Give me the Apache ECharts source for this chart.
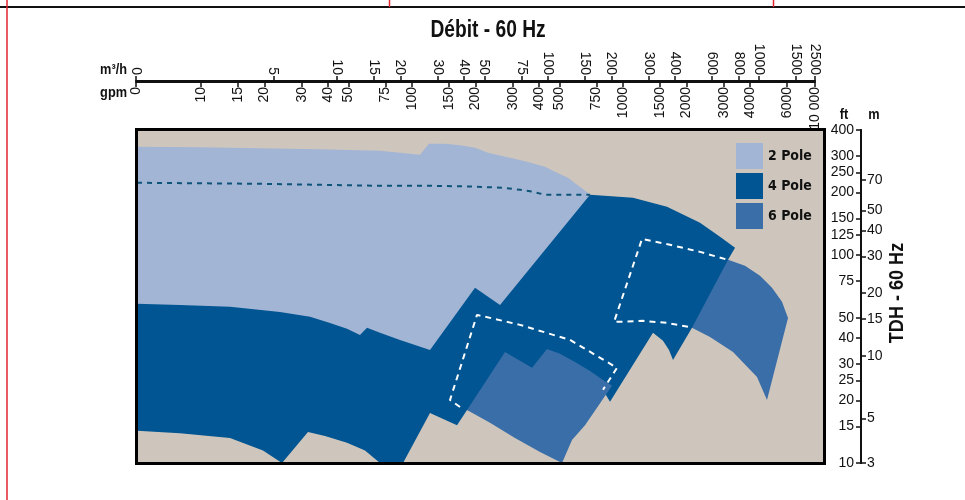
<!DOCTYPE html>
<html><head><meta charset="utf-8">
<script src="https://cdn.jsdelivr.net/npm/echarts@6/dist/echarts.min.js"></script>
<style>html,body{margin:0;padding:0;background:#fff}#c{width:965px;height:500px}</style>
</head><body><div id="c"></div>
<script>
const FONT = "'Liberation Sans',Arial,sans-serif";
const FONT_B = "'DejaVu Sans Condensed','Liberation Sans',sans-serif";

// ---- top flow axes (gpm and m3/h) ----
const gpmTickVals   = [4.92, 10, 15, 20, 30, 40, 50, 75, 100, 150, 200, 300, 400, 500, 750, 1000, 1500, 2000, 3000, 4000, 6000, 8128];
const gpmTickLabels = ['0','10','15','20','30','40','50','75','100','150','200','300','400','500','750','1000','1500','2000','3000','4000','6000','10 000'];
const m3hTickVals   = [1.1174, 5, 10, 15, 20, 30, 40, 50, 75, 100, 150, 200, 300, 400, 600, 800, 1000, 1500, 1846];
const m3hTickLabels = ['0','5','10','15','20','30','40','50','75','100','150','200','300','400','600','800','1000','1500','2500'];

// ---- right head axes (ft and m) ----
const ftTickVals = [10, 15, 20, 25, 30, 40, 50, 75, 100, 125, 150, 200, 250, 300, 400];
const mTickVals  = [3.048, 5, 10, 15, 20, 30, 40, 50, 70];

// ---- regions: [gpm, ft] ----
const pole2Region = [
  [4.974,332.2],[9.891,330.3],[19.04,326.7],[36.64,323.1],[70.52,317.8],[109.1,304.0],[120.4,343.5],
  [143.3,343.5],[168.9,337.9],[198.9,328.5],[229.2,310.8],[291.4,294.1],[350.9,281.3],[426.9,266.1],
  [486.7,249.0],[548.8,235.6],[605.4,218.0],[653.4,206.3],[697.7,195.2],
  [404.3,60.9],[121.7,33.1],[4.974,43.7]
];
const pole4Region = [
  [4.974,58.3],[7.952,57.6],[13.72,56.4],[23.68,53.3],[32.86,50.5],[40.88,47.2],[49.19,44.2],[56.69,41.3],
  [61.20,44.7],[70.52,42.3],[87.75,39.1],[121.7,35.0],[198.9,69.6],[261.3,57.6],[697.7,195.2],
  [1115,188.8],[1616,170.8],[2317,143.1],[2882,122.5],[3396,108.4],[3146,94.9],[3585,80.4],[2882,43.7],
  [2123,44.7],[1726,31.3],[1652,35.0],[1547,38.7],[1387,42.3],[867.8,19.7],[812.7,22.0],[697.7,20.1],
  [404.3,16.1],[182.3,18.0],[163.4,15.2],[121.7,17.4],[90.67,10],[70.52,10],[59.88,11.5],[49.19,12.5],
  [38.70,13.5],[32.14,14.1],[24.20,10],[19.67,11.5],[13.72,13.2],[7.952,13.9],[4.974,14.3]
];
const pole6RegionA = [
  [182.3,18.0],[275.9,34.2],[370.5,28.7],[436.3,35.4],[502.9,33.5],[592.4,30.6],[697.7,27.7],[803.9,25.1],
  [887.0,23.5],[660.6,15.2],[573.2,12.9],[514.0,10],[404.3,11.3],[307.7,13.2],[234.2,15.6]
];
const pole6RegionB = [
  [3146,94.9],[3786,88.8],[4459,79.5],[5083,69.6],[5669,59.6],[6054,49.9],[4813,20.1],[4316,25.9],
  [3322,34.2],[2584,40.4],[2123,44.7]
];

// ---- dashed curves ----
const blueDashed = [
  [4.974,222.9],[9.891,221.7],[19.04,220.4],[36.64,218.0],[70.52,215.6],[121.7,215.6],[188.3,213.9],
  [269.9,210.9],[324.9,206.3],[374.5,201.7],[426.9,195.2],[697.7,195.2]
];
const whiteDashedA = [
  [168.9,18.6],[151.4,20.1],[203.3,51.6],[324.9,46.2],[560.9,39.1],[936.4,28.7],[803.9,22.5]
];
const whiteDashedB = [
  [2033,45.2],[1616,47.2],[1244,48.3],[906.6,47.7],[1231,119.8],[1670,112.1],[2317,103.7],[3146,94.9]
];

const C2 = '#a3b5d5', C4 = '#005592', C6 = '#3a6ea8';

function polySeries(name, color, polys, z) {
  return {
    type: 'custom', name, xAxisIndex: 0, yAxisIndex: 0, clip: true, z,
    itemStyle: { color },
    data: polys.map(p => p[0]),
    renderItem: (params, api) => ({
      type: 'polygon',
      shape: { points: polys[params.dataIndex].map(pt => api.coord(pt)) },
      style: { fill: color }
    })
  };
}
function labelFrom(vals, labels) {
  return v => {
    let best = 0, bd = Infinity;
    vals.forEach((t, i) => { const d = Math.abs(Math.log(t) - Math.log(v)); if (d < bd) { bd = d; best = i; } });
    return labels[best];
  };
}

const chart = echarts.init(document.getElementById('c'), null, { renderer: 'canvas' });
const txt = { fontFamily: FONT, color: '#111', fontSize: 14 };

chart.setOption({
  animation: false,
  backgroundColor: '#fff',
  grid: [
    { left: 137, top: 130, width: 686, height: 333, show: true, backgroundColor: '#cec6bc', borderWidth: 0 },
    { left: 136, top: 81, width: 679, height: 1, show: false }
  ],
  xAxis: [
    { type: 'log', gridIndex: 0, min: 4.974, max: 8868, show: false },
    { type: 'log', gridIndex: 1, position: 'bottom', min: 4.92, max: 8128,
      axisLine: { lineStyle: { color: '#111', width: 2 } },
      axisTick: { inside: false, length: 5, customValues: gpmTickVals, lineStyle: { color: '#111', width: 1.5 } },
      axisLabel: { inside: false, rotate: 90, margin: 5, customValues: gpmTickVals, formatter: labelFrom(gpmTickVals, gpmTickLabels), ...txt },
      splitLine: { show: false } },
    { type: 'log', gridIndex: 1, position: 'top', min: 1.1174, max: 1846,
      axisLine: { lineStyle: { color: '#111', width: 2 } },
      axisTick: { inside: false, length: 5, customValues: m3hTickVals, lineStyle: { color: '#111', width: 1.5 } },
      axisLabel: { inside: false, rotate: 90, margin: 6, customValues: m3hTickVals, formatter: labelFrom(m3hTickVals, m3hTickLabels), ...txt },
      splitLine: { show: false } }
  ],
  yAxis: [
    { type: 'log', gridIndex: 0, position: 'right', offset: 38, min: 10, max: 400,
      axisLine: { show: true, lineStyle: { color: '#111', width: 2 } },
      axisTick: { inside: true, length: 5, customValues: ftTickVals, lineStyle: { color: '#111', width: 1.5 } },
      axisLabel: { inside: true, margin: 7, customValues: ftTickVals, ...txt },
      splitLine: { show: false } },
    { type: 'log', gridIndex: 0, position: 'right', offset: 38, min: 3.048, max: 121.92,
      axisLine: { show: true, lineStyle: { color: '#111', width: 2 } },
      axisTick: { inside: false, length: 5, customValues: mTickVals, lineStyle: { color: '#111', width: 1.5 } },
      axisLabel: { inside: false, margin: 6, customValues: mTickVals, formatter: v => String(Math.round(v)), ...txt },
      splitLine: { show: false } },
    { type: 'value', gridIndex: 1, show: false }
  ],
  legend: {
    data: ['2 Pole', '4 Pole', '6 Pole'], orient: 'vertical', left: 731, top: 138,
    itemWidth: 27, itemHeight: 26, itemGap: 4, icon: 'rect', selectedMode: false,
    textStyle: { fontFamily: FONT_B, fontWeight: 'bold', fontSize: 14, color: '#111' }
  },
  series: [
    polySeries('2 Pole', C2, [pole2Region], 2),
    polySeries('4 Pole', C4, [pole4Region], 3),
    polySeries('6 Pole', C6, [pole6RegionA, pole6RegionB], 4),
    { type: 'line', data: blueDashed, showSymbol: false, silent: true, z: 6, clip: true,
      lineStyle: { color: '#0e5378', width: 2, type: [5, 5] } },
    { type: 'line', data: whiteDashedA, showSymbol: false, silent: true, z: 6,
      lineStyle: { color: '#ffffff', width: 2, type: [6, 5] } },
    { type: 'line', data: whiteDashedB, showSymbol: false, silent: true, z: 6,
      lineStyle: { color: '#ffffff', width: 2, type: [6, 5] } }
  ],
  graphic: [
    { type: 'rect', z: 100, shape: { x: 136.5, y: 129.5, width: 688, height: 334 }, style: { fill: null, stroke: '#000', lineWidth: 3 } },
    { type: 'line', z: 100, shape: { x1: 0, y1: 7, x2: 965, y2: 7 }, style: { stroke: '#111', lineWidth: 2 } },
    { type: 'line', z: 100, shape: { x1: 7, y1: 0, x2: 7, y2: 500 }, style: { stroke: '#e3262e', lineWidth: 1.5 } },
    { type: 'line', z: 100, shape: { x1: 389.5, y1: 0, x2: 389.5, y2: 7 }, style: { stroke: '#e3262e', lineWidth: 1.5 } },
    { type: 'line', z: 100, shape: { x1: 773.5, y1: 0, x2: 773.5, y2: 7 }, style: { stroke: '#e3262e', lineWidth: 1.5 } },
    { type: 'text', z: 100, x: 488, y: 30, scaleX: 0.8, style: { text: 'Débit - 60 Hz', fontFamily: FONT, fontWeight: 'bold', fontSize: 24, fill: '#111', textAlign: 'center', textVerticalAlign: 'middle' } },
    { type: 'text', z: 100, x: 897, y: 293, rotation: Math.PI / 2, scaleX: 0.86, style: { text: 'TDH - 60 Hz', fontFamily: FONT, fontWeight: 'bold', fontSize: 21, fill: '#111', textAlign: 'center', textVerticalAlign: 'middle' } },
    { type: 'text', z: 100, x: 127, y: 70, scaleX: 0.85, style: { text: 'm³/h', fontFamily: FONT, fontWeight: 'bold', fontSize: 15, fill: '#111', textAlign: 'right', textVerticalAlign: 'middle' } },
    { type: 'text', z: 100, x: 127, y: 93, scaleX: 0.85, style: { text: 'gpm', fontFamily: FONT, fontWeight: 'bold', fontSize: 15, fill: '#111', textAlign: 'right', textVerticalAlign: 'middle' } },
    { type: 'text', z: 100, x: 844, y: 115, scaleX: 0.85, style: { text: 'ft', fontFamily: FONT, fontWeight: 'bold', fontSize: 15, fill: '#111', textAlign: 'center', textVerticalAlign: 'middle' } },
    { type: 'text', z: 100, x: 874, y: 115, scaleX: 0.85, style: { text: 'm', fontFamily: FONT, fontWeight: 'bold', fontSize: 15, fill: '#111', textAlign: 'center', textVerticalAlign: 'middle' } }
  ]
});
</script></body></html>
